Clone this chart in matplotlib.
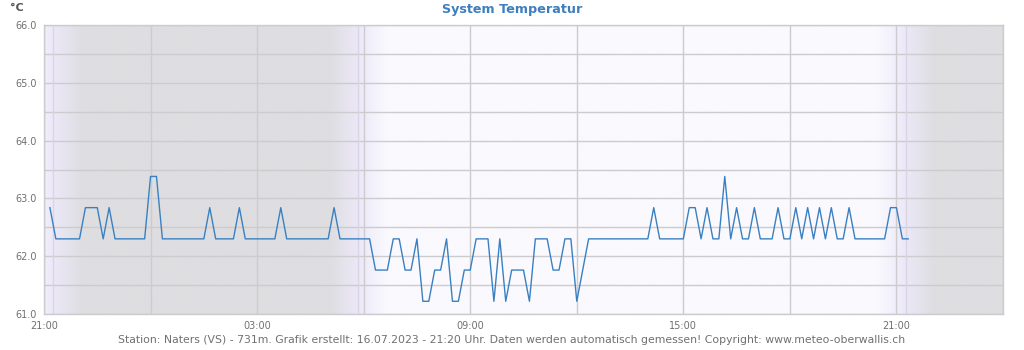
import numpy as np
import pandas as pd
import matplotlib
matplotlib.use('Agg')
from matplotlib import pyplot as plt
from matplotlib.colors import to_rgb

# readings every 10 minutes, 15.07.2023 21:10 .. 16.07.2023 21:20
first_reading = '2023-07-15 21:10'
temps = [
    62.84, 62.30, 62.30, 62.30, 62.30,                # 21h
    62.30, 62.84, 62.84, 62.84, 62.30, 62.84,         # 22h
    62.30, 62.30, 62.30, 62.30, 62.30, 62.30,         # 23h
    63.38, 63.38, 62.30, 62.30, 62.30, 62.30,         # 00h
    62.30, 62.30, 62.30, 62.30, 62.84, 62.30,         # 01h
    62.30, 62.30, 62.30, 62.84, 62.30, 62.30,         # 02h
    62.30, 62.30, 62.30, 62.30, 62.84, 62.30,         # 03h
    62.30, 62.30, 62.30, 62.30, 62.30, 62.30,         # 04h
    62.30, 62.84, 62.30, 62.30, 62.30, 62.30,         # 05h
    62.30, 62.30, 61.76, 61.76, 61.76, 62.30,         # 06h
    62.30, 61.76, 61.76, 62.30, 61.22, 61.22,         # 07h
    61.76, 61.76, 62.30, 61.22, 61.22, 61.76,         # 08h
    61.76, 62.30, 62.30, 62.30, 61.22, 62.30,         # 09h
    61.22, 61.76, 61.76, 61.76, 61.22, 62.30,         # 10h
    62.30, 62.30, 61.76, 61.76, 62.30, 62.30,         # 11h
    61.22, 61.76, 62.30, 62.30, 62.30, 62.30,         # 12h
    62.30, 62.30, 62.30, 62.30, 62.30, 62.30,         # 13h
    62.30, 62.84, 62.30, 62.30, 62.30, 62.30,         # 14h
    62.30, 62.84, 62.84, 62.30, 62.84, 62.30,         # 15h
    62.30, 63.38, 62.30, 62.84, 62.30, 62.30,         # 16h
    62.84, 62.30, 62.30, 62.30, 62.84, 62.30,         # 17h
    62.30, 62.84, 62.30, 62.84, 62.30, 62.84,         # 18h
    62.30, 62.84, 62.30, 62.30, 62.84, 62.30,         # 19h
    62.30, 62.30, 62.30, 62.30, 62.30, 62.84,         # 20h
    62.84, 62.30, 62.30,                              # 21h
]

x_start = '2023-07-15 21:00'
x_end = '2023-07-17 00:00'
tick_labels = ['21:00', '03:00', '09:00', '15:00', '21:00']
sun_events = ['2023-07-15 21:16', '2023-07-16 05:51', '2023-07-16 21:16']

NIGHT = '#dedee1'
DAY = '#faf9fe'
TWILIGHT = '#ece8f8'
LINE = '#3a80c0'
GRID = '#cccccf'
TEXT = '#707070'

day0 = pd.Timestamp(x_start).normalize()


def to_hours(ts):
    return (pd.to_datetime(ts) - day0) / pd.Timedelta(hours=1)


times = pd.date_range(first_reading, periods=len(temps), freq='10min')
x = np.asarray(to_hours(times))
x0, x1 = to_hours(x_start), to_hours(x_end)
sunset1, sunrise, sunset2 = [to_hours(e) for e in sun_events]


def sky(t, fade=0.8):
    night, day, tw = (np.array(to_rgb(c)) for c in (NIGHT, DAY, TWILIGHT))
    out = np.empty((len(t), 3))
    for i, h in enumerate(t):
        d = min(abs(h - e) for e in (sunset1, sunrise, sunset2))
        f = min(d / fade, 1.0)
        is_day = h < sunset1 or sunrise <= h < sunset2
        out[i] = tw + ((day if is_day else night) - tw) * f
    return out


fig = plt.figure(figsize=(10.24, 3.5), dpi=100)
ax = fig.add_axes([44 / 1024, 36 / 350, 959 / 1024, 289 / 350])

grid_t = np.linspace(x0, x1, 1600)
ax.imshow(sky(grid_t)[None, :, :], extent=[x0, x1, 61, 66], aspect='auto',
          interpolation='bilinear', zorder=0)
for e in (sunset1, sunrise, sunset2):
    ax.axvline(e, color='#d9d5e2', lw=1.0, zorder=0.6)

ax.plot(x, temps, color=LINE, linewidth=1.0, zorder=3)

ax.set_xlim(x0, x1)
ax.set_ylim(61, 66)
ax.set_xticks(np.arange(x0, x1, 6))
ax.set_xticklabels(tick_labels)
ax.set_xticks(np.arange(x0, x1 + 0.1, 3), minor=True)
ax.set_yticks(np.arange(61, 66.1, 1))
ax.set_yticklabels([f'{v:.1f}' for v in np.arange(61, 66.1, 1)])
ax.set_yticks(np.arange(61, 66.1, 0.5), minor=True)
ax.set_axisbelow(True)
ax.grid(True, which='both', color=GRID, linewidth=1.0)
ax.tick_params(which='both', length=0, labelsize=7, labelcolor=TEXT, pad=5)
for s in ax.spines.values():
    s.set_color(GRID)
    s.set_linewidth(1.0)

fig.text(0.5, 1 - 10 / 350, 'System Temperatur', ha='center', va='center',
         fontsize=9.2, fontweight='bold', color='#3d7ebf')
fig.text(10 / 1024, 1 - 8 / 350, '°C', ha='left', va='center',
         fontsize=8, fontweight='bold', color='#555555')
fig.text(0.5, 1 - 340 / 350,
         'Station: Naters (VS) - 731m. Grafik erstellt: 16.07.2023 - 21:20 Uhr. '
         'Daten werden automatisch gemessen! Copyright: www.meteo-oberwallis.ch',
         ha='center', va='center', fontsize=7.8, color=TEXT)

fig.savefig('out.png', dpi=100)
